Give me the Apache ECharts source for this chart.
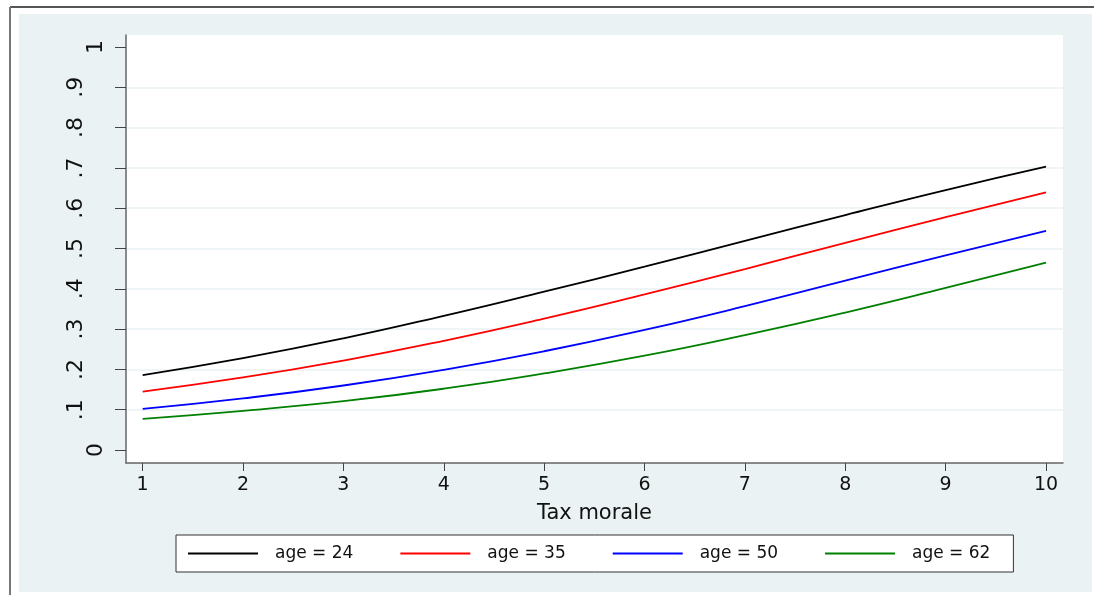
<!DOCTYPE html>
<html>
<head>
<meta charset="utf-8">
<script src="https://cdn.jsdelivr.net/npm/echarts@6/dist/echarts.min.js"></script>
<style>
  html, body { margin: 0; padding: 0; background: #ffffff; }
  #chart { width: 1094px; height: 595px; }
</style>
</head>
<body>
<div id="chart"></div>
<script>
// Predicted probability by tax morale, one curve per age group
const taxMorale = [1, 2, 3, 4, 5, 6, 7, 8, 9, 10];
const age24 = [0.186, 0.228, 0.277, 0.333, 0.393, 0.455, 0.519, 0.583, 0.645, 0.703];
const age35 = [0.145, 0.180, 0.222, 0.271, 0.326, 0.386, 0.449, 0.514, 0.578, 0.639];
const age50 = [0.102, 0.128, 0.160, 0.199, 0.245, 0.298, 0.357, 0.420, 0.483, 0.544];
const age62 = [0.077, 0.097, 0.121, 0.152, 0.190, 0.234, 0.285, 0.341, 0.402, 0.465];

const seriesNames = ['age = 24', 'age = 35', 'age = 50', 'age = 62'];
const seriesColors = ['#000000', '#ff0000', '#0000ff', '#008000'];

const xTicks = [1, 2, 3, 4, 5, 6, 7, 8, 9, 10];
const yTicks = [0, 0.1, 0.2, 0.3, 0.4, 0.5, 0.6, 0.7, 0.8, 0.9, 1];
const yTickLabels = ['0', '.1', '.2', '.3', '.4', '.5', '.6', '.7', '.8', '.9', '1'];
const xTitle = 'Tax morale';

const FONT = 'DejaVu Sans';
const BG = '#eaf2f3';

const pairs = (ys) => taxMorale.map((x, i) => [x, ys[i]]);
const allSeries = [age24, age35, age50, age62];

// gridlines only on the interior ticks
const gridColors = yTicks.map((v, i) => (i === 0 || i === yTicks.length - 1) ? 'rgba(0,0,0,0)' : BG);

const chart = echarts.init(document.getElementById('chart'), null, { renderer: 'canvas' });

chart.setOption({
  backgroundColor: '#ffffff',
  animation: false,
  textStyle: { fontFamily: FONT },
  graphic: [
    { type: 'rect', z: -10, silent: true, shape: { x: 19, y: 14, width: 1073, height: 578 }, style: { fill: BG } },
    { type: 'line', z: -10, silent: true, shape: { x1: 10, y1: 7, x2: 1094, y2: 7 }, style: { stroke: '#555555', lineWidth: 2 } },
    { type: 'line', z: -10, silent: true, shape: { x1: 10, y1: 7, x2: 10, y2: 595 }, style: { stroke: '#777777', lineWidth: 2 } }
  ],
  grid: {
    left: 126, right: 31, top: 35, bottom: 132,
    show: true, backgroundColor: '#ffffff', borderWidth: 0
  },
  xAxis: {
    type: 'value',
    min: 0.834, max: 10.169,
    name: xTitle,
    nameLocation: 'middle',
    nameGap: 40,
    nameTextStyle: { fontFamily: FONT, fontSize: 21, color: '#111111' },
    axisLine: { show: true, onZero: false, lineStyle: { color: '#666666', width: 1.5 } },
    axisTick: { show: true, length: 8, customValues: xTicks, lineStyle: { color: '#444444', width: 1 } },
    axisLabel: { customValues: xTicks, margin: 13, fontFamily: FONT, fontSize: 19, color: '#111111' },
    splitLine: { show: false }
  },
  yAxis: {
    type: 'value',
    min: -0.0323, max: 1.0298,
    axisLine: { show: true, onZero: false, lineStyle: { color: '#666666', width: 1.5 } },
    axisTick: { show: true, length: 11, customValues: yTicks, lineStyle: { color: '#444444', width: 1 } },
    axisLabel: {
      customValues: yTicks,
      rotate: 90,
      margin: 19,
      fontFamily: FONT, fontSize: 22, color: '#111111',
      formatter: (v) => {
        const idx = yTicks.findIndex(t => Math.abs(t - v) < 1e-9);
        const s = idx >= 0 ? yTickLabels[idx] : '';
        return s.length > 1 ? '{b|' + s + '}' : '{a|' + s + '}';
      },
      rich: {
        a: { fontFamily: FONT, fontSize: 22, color: '#111111' },
        b: { fontFamily: FONT, fontSize: 22, color: '#111111', padding: [0, 0, 20, 0] }
      }
    },
    splitLine: { show: true, lineStyle: { color: gridColors, width: 1.5 } }
  },
  legend: {
    left: 176, top: 535,
    orient: 'horizontal',
    padding: [10, 23, 10, 12],
    icon: 'rect',
    itemWidth: 70, itemHeight: 2,
    itemGap: 47,
    backgroundColor: '#ffffff',
    borderColor: '#333333', borderWidth: 1, borderRadius: 0,
    textStyle: { fontFamily: FONT, fontSize: 17, color: '#111111', width: 70, padding: [0, 0, 0, 12] },
    data: seriesNames
  },
  series: allSeries.map((ys, i) => ({
    name: seriesNames[i],
    type: 'line',
    data: pairs(ys),
    smooth: true,
    symbol: 'none',
    color: seriesColors[i],
    lineStyle: { color: seriesColors[i], width: 1.8 }
  }))
});
</script>
</body>
</html>
